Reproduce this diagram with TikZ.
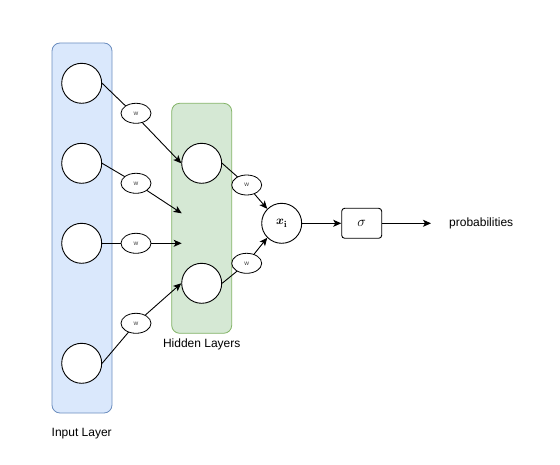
\documentclass[tikz,border=0pt]{standalone}
\usepackage{fontspec}
\setmainfont{Liberation Sans}
\usepackage{amsmath,bm}
\usetikzlibrary{arrows.meta,shapes.geometric}
\definecolor{bluefill}{HTML}{DAE8FC}
\definecolor{bluedraw}{HTML}{6C8EBF}
\definecolor{greenfill}{HTML}{D5E8D4}
\definecolor{greendraw}{HTML}{82B366}
\begin{document}
\begin{tikzpicture}[x=1pt,y=-1pt,
  layerbox/.style={draw=#1draw,fill=#1fill,rounded corners=8pt,line width=0.8pt},
  neuron/.style={circle,draw,fill=white,minimum size=40pt,inner sep=0pt,line width=0.9pt,font=\fontsize{13}{14}\selectfont},
  weight/.style={ellipse,draw,fill=white,minimum width=30pt,minimum height=20pt,inner sep=0pt,font=\fontsize{6.5}{7}\selectfont,text=black!75,line width=0.8pt},
  sigbox/.style={draw,fill=white,rounded corners=3pt,minimum width=40pt,minimum height=30pt,inner sep=0pt,line width=0.9pt,font=\fontsize{14}{15}\selectfont},
  lbl/.style={font=\fontsize{12}{14}\selectfont,inner sep=0pt},
  conn/.style={line width=0.9pt},
  arr/.style={line width=0.9pt,-{Stealth[length=8pt,width=7pt,inset=2pt]}}]
\useasboundingbox (0,0) rectangle (560,465);
% layer boxes
\node[layerbox=blue,minimum width=60pt,minimum height=370pt,inner sep=0pt] (inbox) at (82,228) {};
\node[layerbox=green,minimum width=60pt,minimum height=230pt,inner sep=0pt] (hidbox) at (201.7,218.3) {};
% input neurons
\node[neuron] (i1) at (81.7,83.3) {};
\node[neuron] (i2) at (81.7,163.3) {};
\node[neuron] (i3) at (81.7,243.3) {};
\node[neuron] (i4) at (81.7,363.3) {};
% hidden neurons
\node[neuron] (h1) at (201.7,163.3) {};
\node[neuron] (h2) at (201.7,283.3) {};
\coordinate (t2) at (181.7,213.3);
\coordinate (t3) at (181.7,243.3);
% output
\node[neuron] (x) at (281.7,223.3) {$\bm{x_{\mathbf{i}}}$};
\node[sigbox] (s) at (361.7,223.3) {$\sigma$};
\coordinate (pend) at (431,223.3);
\node[lbl,anchor=west] (prob) at (449,223.3) {probabilities};
% labels
\node[lbl] (inlbl) at (81.7,434) {Input Layer};
\node[lbl] (hidlbl) at (201.7,344) {Hidden Layers};
% connectors (drawn first, weights on top)
\draw[conn] (i1.east) -- (135,115);
\draw[arr] (135,115) -- (h1.west);
\draw[conn] (i2.east) -- (136,183.3);
\draw[arr] (136,183.3) -- (t2);
\draw[conn] (i3.east) -- (136,243.3);
\draw[arr] (136,243.3) -- (t3);
\draw[conn] (i4.east) -- (136,323.3);
\draw[arr] (136,323.3) -- (h2.west);
\draw[conn] (h1.east) -- (246.7,185);
\draw[arr] (246.7,185) -- (x.135);
\draw[conn] (h2.east) -- (246.7,263.3);
\draw[arr] (246.7,263.3) -- (x.225);
\draw[arr] (x.east) -- (s.west);
\draw[arr] (s.east) -- (pend);
% weights
\node[weight] (w1) at (136,113.3) {w};
\node[weight] (w2) at (136,183.3) {w};
\node[weight] (w3) at (136,243.3) {w};
\node[weight] (w4) at (136,323.3) {w};
\node[weight] (w5) at (246.7,185) {w};
\node[weight] (w6) at (246.7,263.3) {w};
\end{tikzpicture}
\end{document}
